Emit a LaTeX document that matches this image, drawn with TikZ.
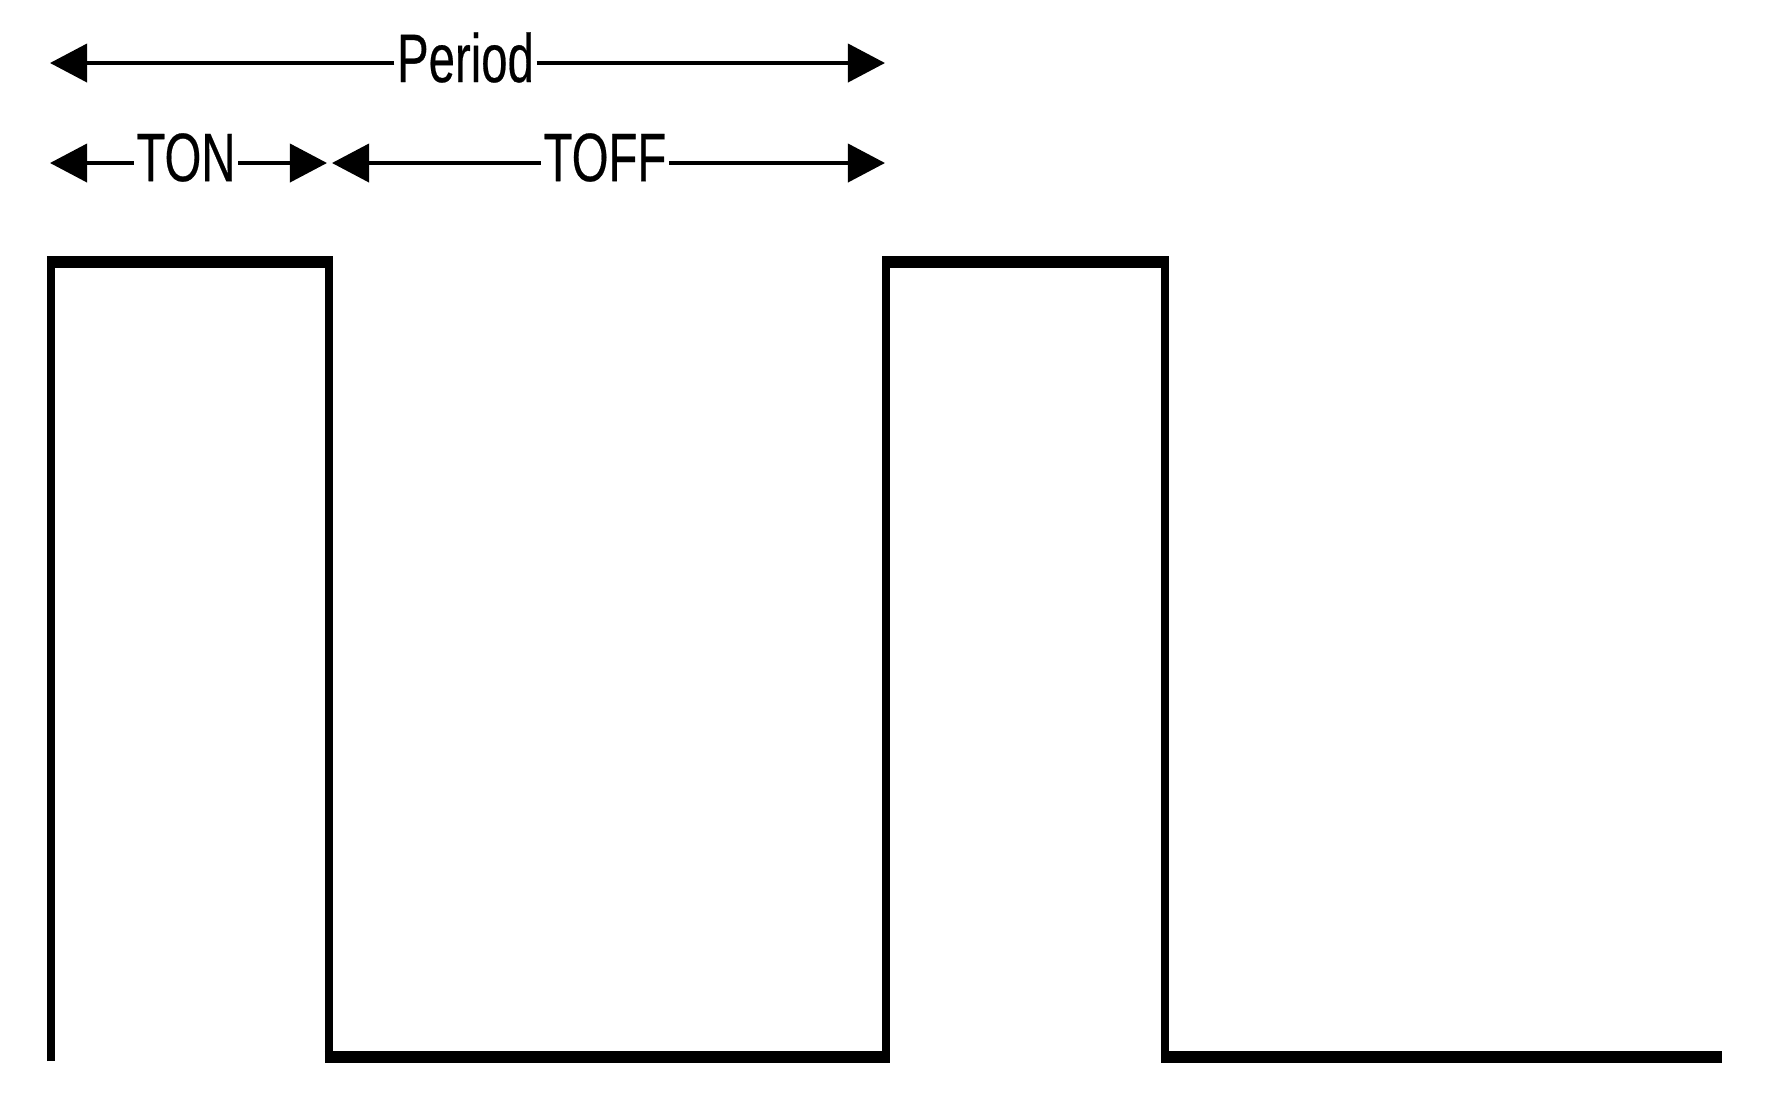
\documentclass[tikz,border=0pt]{standalone}
\usepackage{fontspec}
\newfontfamily\lblfont{Liberation Sans}[FakeBold=0.4]
\usepackage{graphicx}
\usetikzlibrary{arrows.meta}
\tikzset{
  dim/.style={line width=1.1pt, -{Triangle[length=0.37cm,width=0.38cm]}},
  lbl/.style={inner sep=0pt, inner xsep=0.02cm, font=\lblfont\fontsize{19.5}{19.5}\selectfont},
  vwave/.style={line width=2.3pt},
  hwave/.style={line width=3.4pt},
}
\newcommand{\narrowtxt}[1]{\scalebox{0.69}[1]{#1}}
\begin{document}
\begin{tikzpicture}[x=0.01cm,y=-0.01cm]
\useasboundingbox (0,0) rectangle (1765,1117);
% labels
\node[lbl] (period) at (465.5,57.5) {\narrowtxt{Period}};
\node[lbl] (ton) at (186,157.5) {\narrowtxt{TON}};
\node[lbl] (toff) at (605,157.5) {\narrowtxt{TOFF}};
% arrow end points
\coordinate (pL) at (50,63);
\coordinate (pR) at (885,63);
\coordinate (tL) at (50,163);
\coordinate (tM1) at (327,163);
\coordinate (tM2) at (332,163);
\coordinate (tR) at (885,163);
% dimension arrows
\draw[dim] (pL -| period.west) -- (pL);
\draw[dim] (pR -| period.east) -- (pR);
\draw[dim] (tL -| ton.west) -- (tL);
\draw[dim] (tM1 -| ton.east) -- (tM1);
\draw[dim] (tM2 -| toff.west) -- (tM2);
\draw[dim] (tR -| toff.east) -- (tR);
% waveform
\coordinate (w0) at (51,1061);
\coordinate (w1) at (51,262);
\coordinate (w2) at (329,262);
\coordinate (w3) at (329,1057);
\coordinate (w4) at (886,1057);
\coordinate (w5) at (886,262);
\coordinate (w6) at (1165,262);
\coordinate (w7) at (1165,1057);
\coordinate (w8) at (1722,1057);
\draw[vwave] (w0) -- (w1) -- (w2) -- (w3) -- (w4) -- (w5) -- (w6) -- (w7) -- (w8);
\draw[hwave] ([xshift=-0.04cm]w1) -- ([xshift=0.04cm]w2);
\draw[hwave] ([xshift=-0.04cm]w3) -- ([xshift=0.04cm]w4);
\draw[hwave] ([xshift=-0.04cm]w5) -- ([xshift=0.04cm]w6);
\draw[hwave] ([xshift=-0.04cm]w7) -- (w8);
\end{tikzpicture}
\end{document}
